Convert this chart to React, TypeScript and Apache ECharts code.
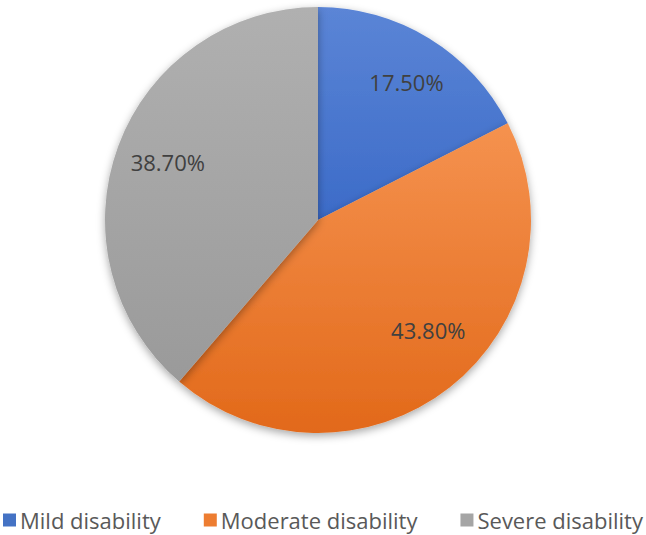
import React, { useEffect, useRef } from "react";
import * as echarts from "echarts";

const categories = ["Mild disability", "Moderate disability", "Severe disability"];
const values = [17.5, 43.8, 38.7];
const labels = ["17.50%", "43.80%", "38.70%"];
const gradients: [string, string][] = [
  ["#5B85D6", "#3C6BC8"],
  ["#F5924F", "#E2691A"],
  ["#B0B0B0", "#9A9A9A"],
];
const legendColors = ["#4472C4", "#ED7D31", "#A5A5A5"];
// label nudges [dx, dy]
const labelOffsets = [
  [2, 3],
  [8, -20],
  [5, 0],
];

export default function App() {
  const ref = useRef<HTMLDivElement>(null);
  useEffect(() => {
    document.body.style.margin = "0";
    if (!ref.current) return;
    const chart = echarts.init(ref.current, null, { renderer: "svg" });
    const center = [318, 220];
    const R = 213;
    chart.setOption({
      animation: false,
      backgroundColor: "#ffffff",
      legend: {
        bottom: 3,
        left: "center",
        width: 646,
        padding: 0,
        itemWidth: 13,
        itemHeight: 13,
        itemGap: 43,
        icon: "rect",
        textStyle: {
          fontFamily: "Open Sans",
          fontSize: 22,
          lineHeight: 24,
          color: "#595959",
          padding: [0, 0, 0, -1],
        },
        data: categories.map((c, i) => ({ name: c, itemStyle: { color: legendColors[i] } })),
      },
      series: [
        {
          type: "pie",
          center,
          radius: [0, R],
          startAngle: 90,
          clockwise: true,
          silent: true,
          label: { show: false },
          labelLine: { show: false },
          itemStyle: {
            borderWidth: 0,
            shadowBlur: 8,
            shadowColor: "rgba(0,0,0,0.35)",
            shadowOffsetY: 3,
          },
          data: categories.map((c, i) => ({
            name: c,
            value: values[i],
            itemStyle: {
              color: new echarts.graphic.LinearGradient(0, 0, 0, 1, [
                { offset: 0, color: gradients[i][0] },
                { offset: 1, color: gradients[i][1] },
              ]),
            },
          })),
        },
        {
          type: "pie",
          center,
          radius: [112, R],
          startAngle: 90,
          clockwise: true,
          silent: true,
          legendHoverLink: false,
          itemStyle: { color: "transparent", borderWidth: 0 },
          label: {
            show: true,
            position: "inside",
            fontFamily: "Open Sans",
            fontSize: 22,
            color: "#404040",
            formatter: (p: any) => labels[p.dataIndex],
          },
          labelLine: { show: false },
          data: categories.map((c, i) => ({
            name: c + " ",
            value: values[i],
            label: { offset: labelOffsets[i] },
          })),
        },
      ],
    });
    return () => chart.dispose();
  }, []);
  return <div ref={ref} style={{ width: 646, height: 535 }} />;
}
